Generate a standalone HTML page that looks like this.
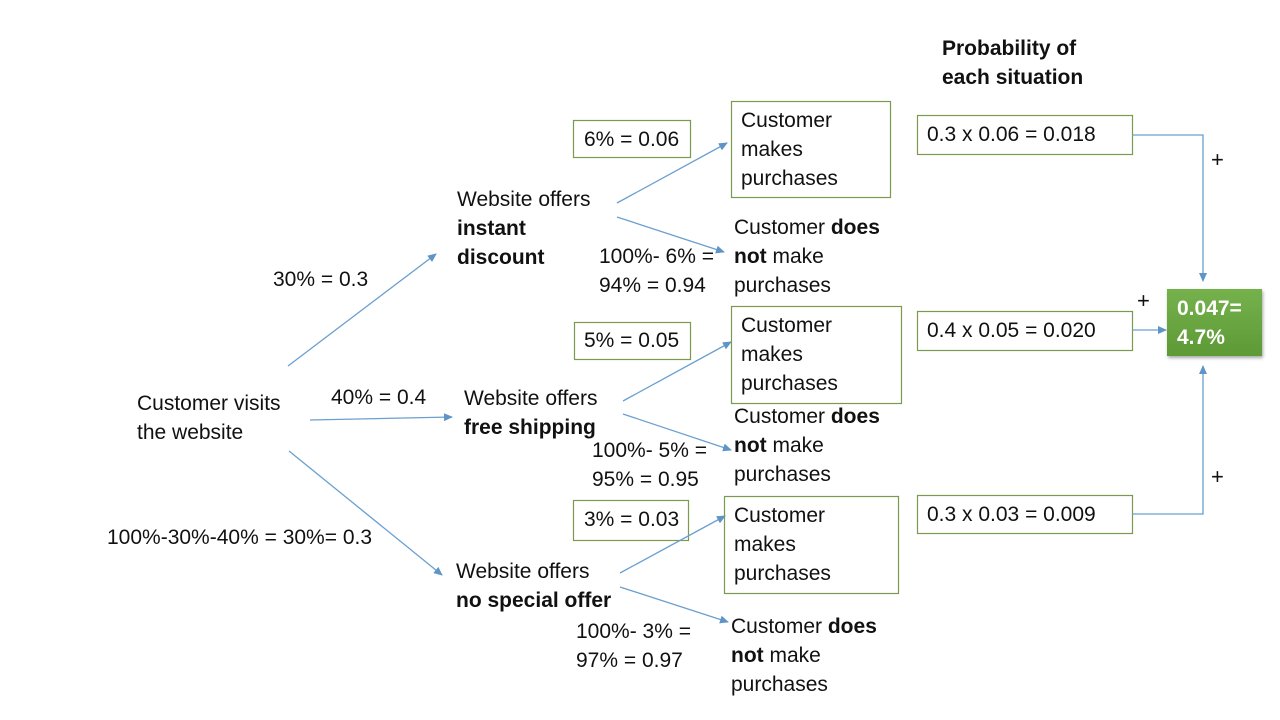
<!DOCTYPE html>
<html>
<head>
<meta charset="utf-8">
<style>
  html,body{margin:0;padding:0;background:#fff;}
  svg{display:block;}
  text{font-family:"Liberation Sans",Arial,sans-serif;font-size:21px;fill:#111;}
  .b{font-weight:bold;}
  .w{fill:#fff;font-weight:bold;}
  .p{font-size:22px;}
</style>
</head>
<body>
<svg width="1280" height="720" viewBox="0 0 1280 720" xmlns="http://www.w3.org/2000/svg">
  <defs>
    <marker id="ah" markerWidth="9" markerHeight="8" refX="8" refY="4" orient="auto" markerUnits="userSpaceOnUse">
      <path d="M0,0 L9,4 L0,8 z" fill="#5f95c6"/>
    </marker>
    <linearGradient id="g" x1="0" y1="0" x2="0" y2="1">
      <stop offset="0" stop-color="#75b14c"/>
      <stop offset="1" stop-color="#5d9a36"/>
    </linearGradient>
    <filter id="sh" x="-20%" y="-20%" width="150%" height="150%">
      <feDropShadow dx="1" dy="2" stdDeviation="1.5" flood-color="#000" flood-opacity="0.35"/>
    </filter>
  </defs>

  <!-- boxes -->
  <g fill="none" stroke="#7a9a4e" stroke-width="1.2">
    <rect x="573.5" y="120.5" width="117" height="37"/>
    <rect x="731.5" y="101.5" width="159" height="96"/>
    <rect x="574.5" y="322.5" width="116" height="37"/>
    <rect x="731.5" y="306.5" width="170" height="97"/>
    <rect x="573.5" y="500.5" width="115" height="40"/>
    <rect x="724.5" y="496.5" width="174" height="97"/>
    <rect x="917.5" y="115.5" width="215" height="39"/>
    <rect x="917.5" y="311.5" width="215" height="39"/>
    <rect x="917.5" y="495.5" width="215" height="38"/>
  </g>
  <rect x="1167" y="289" width="95" height="67" fill="url(#g)" filter="url(#sh)"/>

  <!-- connectors -->
  <g stroke="#6a9fcf" stroke-width="1.3" fill="none" marker-end="url(#ah)">
    <line x1="288" y1="366" x2="436" y2="254"/>
    <line x1="310" y1="420" x2="452" y2="417"/>
    <line x1="289" y1="451" x2="442" y2="575"/>
    <line x1="617" y1="203" x2="727" y2="143"/>
    <line x1="617" y1="217" x2="724" y2="252"/>
    <line x1="623" y1="401" x2="731" y2="342"/>
    <line x1="623" y1="414" x2="731" y2="450"/>
    <line x1="620" y1="573" x2="725" y2="516"/>
    <line x1="620" y1="587" x2="728" y2="622"/>
    <polyline points="1132,135 1203,135 1203,281"/>
    <line x1="1132" y1="330" x2="1166" y2="330"/>
    <polyline points="1132,514 1203,514 1203,366"/>
  </g>

  <!-- header -->
  <text x="942" y="55" class="b">Probability of</text>
  <text x="942" y="84" class="b">each situation</text>

  <!-- left -->
  <text x="137" y="410">Customer visits</text>
  <text x="137" y="439">the website</text>
  <text x="273" y="286">30% = 0.3</text>
  <text x="331" y="404">40% = 0.4</text>
  <text x="107" y="544">100%-30%-40% = 30%= 0.3</text>

  <!-- top branch -->
  <text x="457" y="206">Website offers</text>
  <text x="457" y="235" class="b">instant</text>
  <text x="457" y="264" class="b">discount</text>
  <text x="584" y="146">6% = 0.06</text>
  <text x="741" y="127">Customer</text>
  <text x="741" y="156">makes</text>
  <text x="741" y="185">purchases</text>
  <text x="734" y="234">Customer <tspan class="b">does</tspan></text>
  <text x="734" y="263"><tspan class="b">not</tspan> make</text>
  <text x="734" y="292">purchases</text>
  <text x="599" y="263">100%- 6% =</text>
  <text x="599" y="292">94% = 0.94</text>

  <!-- middle branch -->
  <text x="464" y="405">Website offers</text>
  <text x="464" y="434" class="b">free shipping</text>
  <text x="584" y="347">5% = 0.05</text>
  <text x="741" y="332">Customer</text>
  <text x="741" y="361">makes</text>
  <text x="741" y="390">purchases</text>
  <text x="734" y="423">Customer <tspan class="b">does</tspan></text>
  <text x="734" y="452"><tspan class="b">not</tspan> make</text>
  <text x="734" y="481">purchases</text>
  <text x="592" y="457">100%- 5% =</text>
  <text x="592" y="486">95% = 0.95</text>

  <!-- bottom branch -->
  <text x="456" y="578">Website offers</text>
  <text x="456" y="607" class="b">no special offer</text>
  <text x="584" y="526">3% = 0.03</text>
  <text x="734" y="522">Customer</text>
  <text x="734" y="551">makes</text>
  <text x="734" y="580">purchases</text>
  <text x="731" y="633">Customer <tspan class="b">does</tspan></text>
  <text x="731" y="662"><tspan class="b">not</tspan> make</text>
  <text x="731" y="691">purchases</text>
  <text x="576" y="638">100%- 3% =</text>
  <text x="576" y="667">97% = 0.97</text>

  <!-- probability boxes -->
  <text x="927" y="141">0.3 x 0.06 = 0.018</text>
  <text x="927" y="337">0.4 x 0.05 = 0.020</text>
  <text x="927" y="521">0.3 x 0.03 = 0.009</text>

  <text x="1211" y="167" class="p">+</text>
  <text x="1137" y="308" class="p">+</text>
  <text x="1211" y="484" class="p">+</text>

  <text x="1177" y="315" class="w">0.047=</text>
  <text x="1177" y="344" class="w">4.7%</text>
</svg>
</body>
</html>
